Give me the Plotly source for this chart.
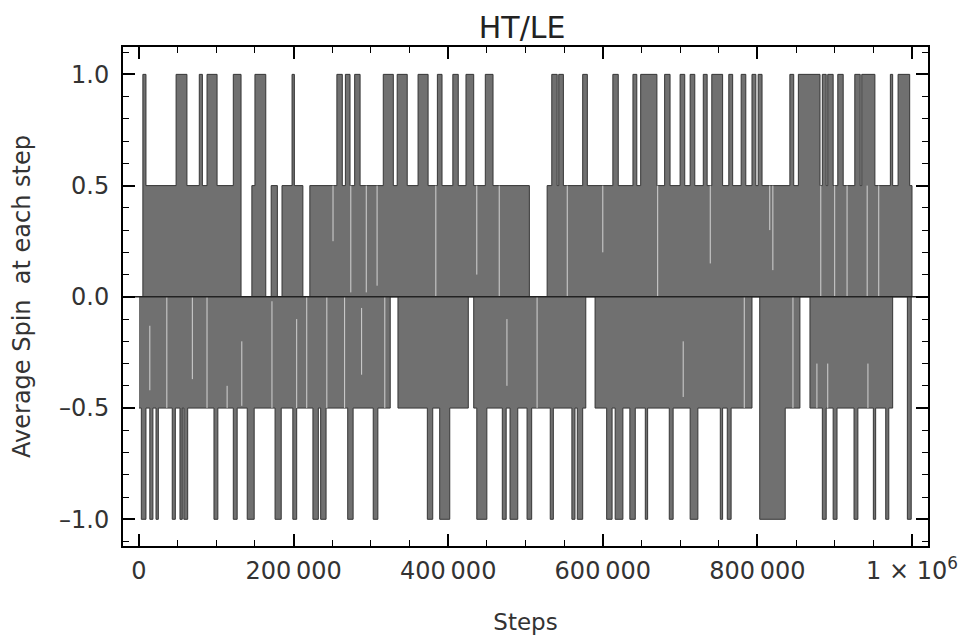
import plotly.graph_objects as go

# ---- data (steps in thousands) ----
# upper envelope: step where level changes, and new level
up_k = [0, 5, 9, 48, 62, 78, 82, 88, 101, 122, 132, 146, 150, 164, 171, 179, 185, 198, 201, 212,
        221, 256, 263, 267, 273, 279, 286, 316, 329, 334, 347, 361, 374, 386, 392, 406, 413, 423,
        433, 448, 458, 505, 528, 534, 541, 543, 549, 574, 580, 613, 620, 639, 644, 649, 670, 680,
        687, 700, 706, 713, 719, 730, 735, 741, 755, 763, 768, 779, 785, 793, 798, 801, 806, 842,
        847, 853, 881, 884, 889, 891, 898, 904, 911, 926, 933, 935, 952, 972, 975, 982, 997, 1000]
up_lv = [0, 1, 0.5, 1, 0.5, 1, 0.5, 1, 0.5, 1, 0, 0.5, 1, 0, 0.5, 0, 0.5, 1, 0.5, 0,
         0.5, 1, 0.5, 1, 0.5, 1, 0.5, 1, 0.5, 1, 0.5, 1, 0.5, 1, 0.5, 1, 0.5, 1,
         0.5, 1, 0.5, 0, 0.5, 1, 0.5, 1, 0.5, 1, 0.5, 1, 0.5, 1, 0.5, 1, 0.5, 1,
         0.5, 1, 0.5, 1, 0.5, 1, 0.5, 1, 0.5, 1, 0.5, 1, 0.5, 1, 0.5, 1, 0.5, 1,
         0.5, 1, 0.5, 1, 0.5, 1, 0.5, 1, 0.5, 1, 0.5, 1, 0.5, 1, 0.5, 1, 0.5, 0]

# lower envelope
lo_k = [0, 3, 9, 14, 18, 22, 25, 43, 47, 53, 56, 58, 63, 97, 102, 122, 127, 140, 149, 176,
        184, 199, 204, 225, 232, 235, 242, 270, 277, 303, 309, 325, 335, 373, 380, 389, 402,
        426, 433, 437, 450, 470, 475, 480, 490, 502, 508, 532, 536, 560, 564, 567, 574, 578,
        590, 605, 612, 616, 626, 635, 642, 655, 658, 686, 691, 713, 723, 752, 755, 761, 766,
        793, 803, 836, 855, 868, 884, 889, 898, 903, 925, 930, 950, 953, 966, 970, 975, 994,
        999, 1000]
lo_lv = [-0.5, -1, -0.5, -1, -0.5, -1, -0.5, -1, -0.5, -1, -0.5, -1, -0.5, -1, -0.5, -1, -0.5, -1, -0.5, -1,
         -0.5, -1, -0.5, -1, -0.5, -1, -0.5, -1, -0.5, -1, -0.5, 0, -0.5, -1, -0.5, -1, -0.5,
         0, -0.5, -1, -0.5, -1, -0.5, -1, -0.5, -1, -0.5, -1, -0.5, -1, -0.5, -1, -0.5, 0,
         -0.5, -1, -0.5, -1, -0.5, -1, -0.5, -1, -0.5, -1, -0.5, -1, -0.5, -1, -0.5, -1, -0.5,
         0, -1, -0.5, 0, -0.5, -1, -0.5, -1, -0.5, -1, -0.5, -1, -0.5, -1, -0.5, 0, -1,
         0, 0]

# light streaks inside the dense band: step (k), from level, to level
gap_k = [274, 294, 384, 466, 554, 671, 882, 900, 916, 942, 957, 251, 308, 437, 600, 739, 816, 820,
         36, 88, 217, 243, 266, 318, 515, 783, 846, 14, 69, 114, 133, 172, 204, 288, 476, 704, 877, 891, 943]
gap_from = [0.5, 0.5, 0.5, 0.5, 0.5, 0.5, 0.5, 0.5, 0.5, 0.5, 0.5, 0.5, 0.5, 0.5, 0.5, 0.5, 0.5, 0.5,
            0, 0, 0, 0, 0, 0, 0, 0, 0, -0.13, 0, -0.4, -0.2, -0.02, -0.1, -0.05, -0.1, -0.2, -0.3, -0.3, -0.3]
gap_to = [0.02, 0.02, 0, 0, 0, 0, 0, 0, 0, 0, 0, 0.25, 0.05, 0.1, 0.2, 0.15, 0.3, 0.12,
          -0.5, -0.5, -0.5, -0.5, -0.5, -0.5, -0.5, -0.5, -0.5, -0.42, -0.37, -0.5, -0.49, -0.5, -0.5, -0.35, -0.4, -0.45, -0.5, -0.5, -0.5]

x_tickvals = [0, 200000, 400000, 600000, 800000, 1000000]
x_ticktext = ["0", "200\u2009000", "400\u2009000", "600\u2009000", "800\u2009000", "1 \u00d7 10<sup>6</sup>"]
y_tickvals = [-1.0, -0.5, 0.0, 0.5, 1.0]
y_ticktext = ["\u20131.0", "\u20130.5", "0.0", "0.5", "1.0"]
x_range = [-20700, 1020700]
y_range = [-1.12, 1.123]

FILL = "#707070"
EDGE = "#363636"
FONT = "DejaVu Sans"

fig = go.Figure()
fig.add_trace(go.Scatter(x=[k * 1000 for k in up_k], y=up_lv, mode="lines", line_shape="hv",
                         fill="tozeroy", fillcolor=FILL, line=dict(color=EDGE, width=1),
                         hoverinfo="skip", showlegend=False))
fig.add_trace(go.Scatter(x=[k * 1000 for k in lo_k], y=lo_lv, mode="lines", line_shape="hv",
                         fill="tozeroy", fillcolor=FILL, line=dict(color=EDGE, width=1),
                         hoverinfo="skip", showlegend=False))

gx, gy = [], []
for k, a, b in zip(gap_k, gap_from, gap_to):
    gx += [k * 1000, k * 1000, None]
    gy += [a, b, None]
fig.add_trace(go.Scatter(x=gx, y=gy, mode="lines", line=dict(color="rgba(235,235,235,0.8)", width=1),
                         hoverinfo="skip", showlegend=False))

# axis line at zero
fig.add_trace(go.Scatter(x=x_range, y=[0, 0], mode="lines", line=dict(color="#222", width=1.5),
                         hoverinfo="skip", showlegend=False))

fig.update_layout(
    width=958, height=644,
    margin=dict(l=123, r=30, t=47, b=98),
    paper_bgcolor="white", plot_bgcolor="white",
    font=dict(family=FONT, size=24, color="#333"),
    title=dict(text="HT/LE", x=0.545, xanchor="center", y=0.958, yanchor="middle",
               font=dict(family=FONT, size=30, color="#222")),
    showlegend=False,
)
fig.update_xaxes(
    automargin=False,
    range=x_range, tickvals=x_tickvals, ticktext=x_ticktext,
    showgrid=False, zeroline=False, showline=True, linecolor="black", linewidth=2, mirror="allticks",
    ticks="inside", ticklen=12, tickwidth=1.5, tickcolor="black",
    minor=dict(ticks="inside", ticklen=6, tickwidth=1.2, tickcolor="black", dtick=50000, tick0=0, showgrid=False),
    tickfont=dict(family=FONT, size=24, color="#333"), ticklabelstandoff=2,
    title=dict(text="Steps", standoff=30, font=dict(family=FONT, size=23, color="#333")),
)
fig.update_yaxes(
    automargin=False,
    range=y_range, tickvals=y_tickvals, ticktext=y_ticktext,
    showgrid=False, zeroline=False, showline=True, linecolor="black", linewidth=2, mirror="allticks",
    ticks="inside", ticklen=12, tickwidth=1.5, tickcolor="black",
    minor=dict(ticks="inside", ticklen=6, tickwidth=1.2, tickcolor="black", dtick=0.1, tick0=0, showgrid=False),
    tickfont=dict(family=FONT, size=24, color="#333"), ticklabelstandoff=7,
    title=dict(text="Average Spin\u00a0 at each step", standoff=22, font=dict(family=FONT, size=24, color="#333")),
)

fig.write_html("out.html")
